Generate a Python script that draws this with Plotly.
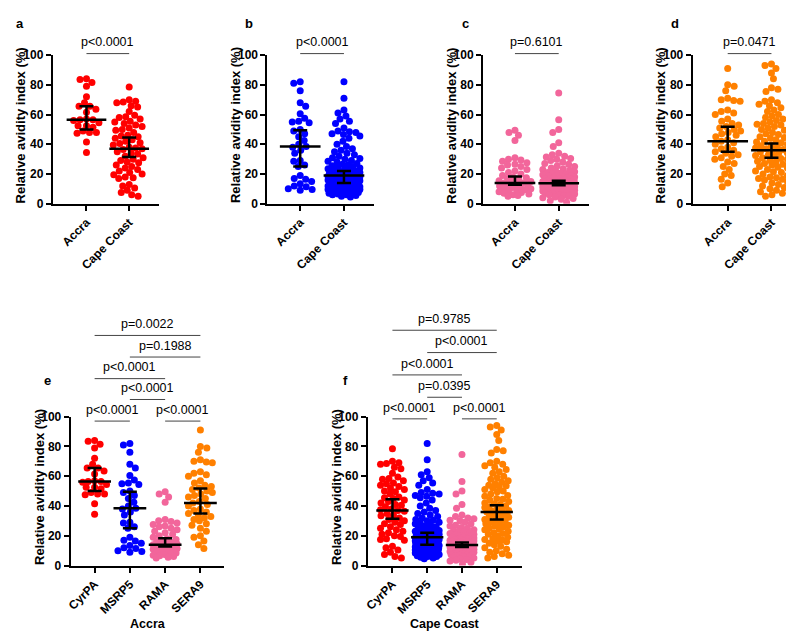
import numpy as np
import plotly.graph_objects as go

W, H = 794, 633

# ---------------- data (relative avidity index, %) ----------------
cyrpa_accra = [84.0, 83.5, 81.5, 79.0, 72.0, 68.0, 65.5, 65.5, 63.5, 61.5, 57.0, 56.5, 56.5, 56.0,
               54.5, 52.5, 52.5, 51.5, 49.0, 48.0, 48.0, 47.5, 41.5, 34.5]
cyrpa_cc = [78.5, 70.0, 69.0, 68.5, 68.0, 66.0, 65.0, 62.0, 59.5, 58.5, 58.0, 57.0, 55.5, 55.0, 54.0,
            53.0, 52.0, 51.0, 50.0, 49.5, 48.0, 46.0, 45.5, 45.0, 44.0, 43.0, 42.0, 41.0, 40.5, 39.5,
            38.0, 37.5, 37.0, 36.5, 35.0, 34.0, 33.5, 32.0, 31.0, 30.0, 29.0, 28.0, 27.5, 26.0, 25.0,
            24.0, 23.0, 22.0, 21.0, 20.0, 19.5, 18.0, 17.5, 17.0, 13.0, 12.0, 10.5, 9.0, 7.5, 6.0, 5.0]
msrp5_accra = [82.0, 81.0, 76.0, 68.0, 65.5, 60.5, 57.5, 55.5, 55.0, 54.5, 50.0, 49.0, 47.0, 45.0,
               42.5, 40.0, 38.5, 38.0, 36.0, 34.0, 29.0, 28.5, 26.0, 25.0, 19.0, 17.0, 16.5, 15.0,
               13.5, 12.0, 11.5, 10.0, 9.5, 9.0]
msrp5_cc = [82.0, 71.0, 63.0, 61.0, 59.0, 57.0, 55.5, 54.0, 51.0, 49.0, 48.5, 48.0, 47.0, 46.5, 45.5,
            44.0, 42.0, 40.0, 38.5, 37.0, 36.0, 35.0, 34.0, 33.0, 32.0, 31.0, 30.5, 30.0, 29.0, 28.5,
            28.0, 27.0, 26.5, 26.0, 25.5, 25.0, 24.5, 24.0, 23.5, 23.0, 22.5, 22.0, 22.0, 21.5, 21.0,
            21.0, 20.5, 20.0, 20.0, 19.5, 19.0, 19.0, 18.5, 18.5, 18.0, 18.0, 17.5, 17.5, 17.0, 17.0,
            16.5, 16.5, 16.0, 16.0, 15.5, 15.5, 15.0, 15.0, 15.0, 14.5, 14.5, 14.0, 14.0, 14.0, 13.5,
            13.5, 13.0, 13.0, 13.0, 12.5, 12.5, 12.0, 12.0, 12.0, 11.5, 11.5, 11.0, 11.0, 11.0, 10.5,
            10.5, 10.0, 10.0, 10.0, 9.5, 9.5, 9.0, 9.0, 9.0, 8.5, 8.5, 8.0, 8.0, 7.5, 7.5, 7.0, 7.0,
            6.5, 6.0, 6.0, 5.5, 5.0, 4.5]
rama_accra = [49.5, 48.0, 46.0, 42.5, 31.0, 30.0, 29.5, 28.5, 27.5, 26.5, 26.0, 25.0, 24.0, 23.0,
              22.0, 21.0, 20.0, 19.0, 18.0, 17.5, 17.0, 16.0, 15.5, 15.0, 14.5, 14.0, 14.0, 13.5,
              13.0, 12.5, 12.0, 11.5, 11.0, 10.5, 10.0, 9.5, 9.0, 8.5, 8.0, 7.5, 7.0, 6.5, 6.0, 5.5, 5.0]
rama_cc = [74.5, 56.5, 50.0, 48.0, 41.0, 38.5, 34.0, 33.0, 32.0, 31.5, 30.5, 30.0, 29.0, 28.0, 27.0,
           26.5, 25.5, 25.0, 24.0, 23.5, 23.0, 22.5, 22.0, 21.5, 21.0, 20.5, 20.0, 20.0, 19.5, 19.0,
           19.0, 18.5, 18.0, 18.0, 17.5, 17.5, 17.0, 17.0, 16.5, 16.5, 16.0, 16.0, 16.0, 15.5, 15.5,
           15.0, 15.0, 15.0, 14.5, 14.5, 14.5, 14.0, 14.0, 14.0, 14.0, 13.5, 13.5, 13.5, 13.0, 13.0,
           13.0, 13.0, 12.5, 12.5, 12.5, 12.0, 12.0, 12.0, 11.5, 11.5, 11.5, 11.0, 11.0, 11.0, 10.5,
           10.5, 10.0, 10.0, 10.0, 9.5, 9.5, 9.0, 9.0, 9.0, 8.5, 8.5, 8.0, 8.0, 7.5, 7.5, 7.0, 7.0,
           6.5, 6.0, 6.0, 5.5, 5.0, 4.5, 4.0, 3.5, 3.0, 2.0, 1.0]
sera9_accra = [91.0, 80.0, 79.0, 76.0, 71.0, 70.0, 69.5, 69.0, 63.0, 62.0, 61.0, 60.0, 57.0, 55.5,
               54.0, 53.0, 52.0, 51.0, 50.0, 49.0, 48.0, 47.0, 46.0, 45.0, 43.0, 42.0, 41.0, 40.0,
               38.0, 37.0, 36.0, 35.0, 34.0, 33.0, 32.0, 31.0, 30.0, 28.0, 27.0, 25.0, 23.0, 20.0,
               19.0, 16.5, 14.0, 11.5]
sera9_cc = [94.0, 93.0, 91.0, 88.0, 84.0, 78.0, 77.0, 75.5, 70.0, 69.0, 68.0, 67.0, 66.0, 64.5, 63.0,
            62.0, 60.0, 59.0, 58.0, 57.0, 56.0, 55.0, 54.0, 53.5, 53.0, 52.0, 51.0, 50.0, 49.5, 48.0,
            47.0, 46.5, 45.0, 44.5, 44.0, 43.0, 42.0, 41.5, 41.0, 40.0, 39.5, 39.0, 38.0, 37.5, 37.0,
            36.5, 36.0, 35.0, 34.5, 34.0, 33.0, 32.5, 32.0, 31.0, 30.5, 30.0, 29.0, 28.5, 28.0, 27.0,
            26.5, 26.0, 25.0, 24.5, 24.0, 23.0, 22.0, 21.5, 21.0, 20.0, 19.0, 18.0, 17.5, 17.0, 16.5,
            16.0, 15.0, 14.0, 13.0, 12.0, 11.0, 10.0, 9.0, 8.0, 7.0, 6.0, 5.0]

# median and error-bar limits: [Accra, Cape Coast]
cyrpa_med, cyrpa_lo, cyrpa_hi = [56.5, 37.0], [50.0, 31.5], [65.5, 44.5]
msrp5_med, msrp5_lo, msrp5_hi = [38.5, 19.0], [25.0, 14.0], [49.5, 22.0]
rama_med, rama_lo, rama_hi = [14.0, 13.8], [12.8, 12.5], [18.3, 15.5]
sera9_med, sera9_lo, sera9_hi = [42.0, 36.0], [35.0, 31.0], [51.8, 40.5]

sites = ["Accra", "Cape Coast"]
antigens = ["CyrPA", "MSRP5", "RAMA", "SERA9"]
y_ticks = [0, 20, 40, 60, 80, 100]

# p-values
p_top = ["p<0.0001", "p<0.0001", "p=0.6101", "p=0.0471"]
p_accra = ["p<0.0001", "p<0.0001", "p<0.0001", "p<0.0001", "p=0.1988", "p=0.0022"]
p_cc = ["p<0.0001", "p<0.0001", "p=0.0395", "p<0.0001", "p<0.0001", "p=0.9785"]
pairs = [(0, 1), (2, 3), (1, 2), (0, 2), (1, 3), (0, 3)]
bracket_y_e = [97.0, 97.0, 111.5, 125.5, 140.0, 154.5]
bracket_y_f = [98.5, 98.5, 113.0, 128.0, 143.0, 158.0]

RED, BLUE, PINK, ORANGE = "#FF0000", "#0000FF", "#F2669B", "#FF8000"

FONT = "Liberation Sans, Arial, sans-serif"

# ---------------- layout geometry (pixels) ----------------
top_y = (41, 193)        # pixel rows of 100 and 0
bot_y = (410.7, 563)
panels = [
    dict(letter="a", lx=7, xpx=(40, 147), rng=(-0.79, 1.70), ypx=top_y,
         vals=[cyrpa_accra, cyrpa_cc], colors=[RED, RED],
         med=cyrpa_med, lo=cyrpa_lo, hi=cyrpa_hi, labels=sites),
    dict(letter="b", lx=237, xpx=(256, 363), rng=(-0.75, 1.68), ypx=top_y,
         vals=[msrp5_accra, msrp5_cc], colors=[BLUE, BLUE],
         med=msrp5_med, lo=msrp5_lo, hi=msrp5_hi, labels=sites),
    dict(letter="c", lx=455, xpx=(473, 580), rng=(-0.73, 1.70), ypx=top_y,
         vals=[rama_accra, rama_cc], colors=[PINK, PINK],
         med=rama_med, lo=rama_lo, hi=rama_hi, labels=sites),
    dict(letter="d", lx=666, xpx=(684, 791), rng=(-0.80, 1.63), ypx=top_y,
         vals=[sera9_accra, sera9_cc], colors=[ORANGE, ORANGE],
         med=sera9_med, lo=sera9_lo, hi=sera9_hi, labels=sites),
    dict(letter="e", lx=35, xpx=(58, 212), rng=(-0.68, 3.66), ypx=bot_y,
         vals=[cyrpa_accra, msrp5_accra, rama_accra, sera9_accra],
         colors=[RED, BLUE, PINK, ORANGE],
         med=[cyrpa_med[0], msrp5_med[0], rama_med[0], sera9_med[0]],
         lo=[cyrpa_lo[0], msrp5_lo[0], rama_lo[0], sera9_lo[0]],
         hi=[cyrpa_hi[0], msrp5_hi[0], rama_hi[0], sera9_hi[0]],
         labels=antigens, xtitle="Accra"),
    dict(letter="f", lx=335, xpx=(357, 512), rng=(-0.71, 3.72), ypx=bot_y,
         vals=[cyrpa_cc, msrp5_cc, rama_cc, sera9_cc],
         colors=[RED, BLUE, PINK, ORANGE],
         med=[cyrpa_med[1], msrp5_med[1], rama_med[1], sera9_med[1]],
         lo=[cyrpa_lo[1], msrp5_lo[1], rama_lo[1], sera9_lo[1]],
         hi=[cyrpa_hi[1], msrp5_hi[1], rama_hi[1], sera9_hi[1]],
         labels=antigens, xtitle="Cape Coast"),
]


def swarm_offsets(vals, ypx_per_unit, d, maxw):
    """Beeswarm: pixel x-offsets so that dots do not overlap (clamped to maxw)."""
    ys = np.asarray(vals, float) * ypx_per_unit
    order = np.argsort(-ys, kind="stable")
    cands = [0.0]
    for c in np.arange(0.5, maxw + 0.01, 0.5):
        cands += [c, -c]
    px, py = [], []
    offs = np.zeros(len(ys))
    for n, i in enumerate(order):
        y = ys[i]
        ax = np.array(px)
        ay = np.array(py)
        if len(ay):
            m = np.abs(ay - y) < d
            ax, ay = ax[m], ay[m]
        best, bestc, bestd = None, 0.0, -1.0
        cl = cands if n % 2 == 0 else [-c for c in cands]
        for c in cl:
            if len(ax) == 0:
                best = c
                break
            dist = np.min((ax - c) ** 2 + (ay - y) ** 2)
            if dist >= d * d:
                best = c
                break
            if dist > bestd:
                bestd, bestc = dist, c
        if best is None:
            best = bestc
        px.append(best)
        py.append(y)
        offs[i] = best
    return offs


fig = go.Figure()
shapes, annotations = [], []
layout_axes = {}


def to_paper_x(p, xv):
    x0, x1 = p["xpx"]
    r0, r1 = p["rng"]
    return (x0 + (xv - r0) / (r1 - r0) * (x1 - x0)) / W


def to_paper_y(p, yv):
    y100, y0 = p["ypx"]
    return 1 - (y0 - yv / 100 * (y0 - y100)) / H


for k, p in enumerate(panels, start=1):
    sx = "" if k == 1 else str(k)
    xa, ya = "x" + sx, "y" + sx
    xs = (p["xpx"][1] - p["xpx"][0]) / (p["rng"][1] - p["rng"][0])   # px per category unit
    ys = (p["ypx"][1] - p["ypx"][0]) / 100.0                         # px per %
    top = k <= 4
    maxw = 16 if top else 12
    for j, (vals, col) in enumerate(zip(p["vals"], p["colors"])):
        offs = swarm_offsets(vals, ys, 6.3, maxw)
        fig.add_trace(go.Scatter(
            x=j + offs / xs, y=vals, mode="markers", xaxis=xa, yaxis=ya,
            marker=dict(color=col, size=7, line=dict(width=0)),
            showlegend=False, hoverinfo="skip"))
    med = np.array(p["med"])
    fig.add_trace(go.Scatter(
        x=list(range(len(med))), y=med, mode="markers", xaxis=xa, yaxis=ya,
        marker=dict(symbol="line-ew", size=0.66 * xs, color="black",
                    line=dict(color="black", width=2.5)),
        error_y=dict(type="data", symmetric=False, array=np.array(p["hi"]) - med,
                     arrayminus=med - np.array(p["lo"]), color="black",
                     thickness=2.5, width=7),
        showlegend=False, hoverinfo="skip"))

    n = len(p["labels"])
    layout_axes["xaxis" + sx] = dict(
        domain=[p["xpx"][0] / W, p["xpx"][1] / W], range=list(p["rng"]), anchor=ya,
        tickvals=list(range(n)), ticktext=p["labels"], tickangle=-45,
        showline=True, linecolor="black", linewidth=2, ticks="outside", ticklen=5,
        tickwidth=2, tickcolor="black", showgrid=False, zeroline=False,
        tickfont=dict(family=FONT, size=12, color="black", weight="bold"))
    layout_axes["yaxis" + sx] = dict(
        domain=[1 - p["ypx"][1] / H, 1 - p["ypx"][0] / H], range=[0, 100], anchor=xa,
        tickvals=y_ticks, showline=True, linecolor="black", linewidth=2,
        ticks="outside", ticklen=5, tickwidth=2, tickcolor="black",
        showgrid=False, zeroline=False,
        tickfont=dict(family=FONT, size=12, color="black", weight="bold"))

    # y-axis title
    annotations.append(dict(
        x=(p["xpx"][0] - 32) / W, y=1 - ((p["ypx"][0] + p["ypx"][1]) / 2 - 4) / H,
        xref="paper", yref="paper", text="Relative avidity index (%)", textangle=-90,
        showarrow=False, xanchor="center", yanchor="middle",
        font=dict(family=FONT, size=13, color="black", weight="bold")))
    # panel letter
    ly = 9 if top else 374
    annotations.append(dict(
        x=p["lx"] / W, y=1 - ly / H, xref="paper", yref="paper",
        text=p["letter"], showarrow=False, xanchor="center", yanchor="middle",
        font=dict(family=FONT, size=13, color="black", weight="bold")))
    # x-axis title
    if "xtitle" in p:
        annotations.append(dict(
            x=to_paper_x(p, (n - 1) / 2), y=1 - 623 / H, xref="paper", yref="paper",
            text=p["xtitle"], showarrow=False, xanchor="center", yanchor="middle",
            font=dict(family=FONT, size=12.5, color="black", weight="bold")))

    # significance brackets
    if top:
        brs = [((0, 1), 101.0, p_top[k - 1])]
    else:
        yy = bracket_y_e if p["letter"] == "e" else bracket_y_f
        pv = p_accra if p["letter"] == "e" else p_cc
        brs = [(pairs[i], yy[i], pv[i]) for i in range(len(pairs))]
    for (i0, i1), yv, txt in brs:
        x0p, x1p = to_paper_x(p, i0), to_paper_x(p, i1)
        yp = to_paper_y(p, yv)
        shapes.append(dict(type="line", xref="paper", yref="paper", x0=x0p, x1=x1p,
                           y0=yp, y1=yp, line=dict(color="#444444", width=1)))
        annotations.append(dict(
            x=(x0p + x1p) / 2, y=yp + 11.5 / H, xref="paper", yref="paper", text=txt,
            showarrow=False, xanchor="center", yanchor="middle",
            font=dict(family=FONT, size=12.5, color="black")))

fig.update_layout(
    width=W, height=H, margin=dict(l=0, r=0, t=0, b=0),
    paper_bgcolor="white", plot_bgcolor="white",
    shapes=shapes, annotations=annotations, showlegend=False,
    **layout_axes)

fig.write_html("out.html")
